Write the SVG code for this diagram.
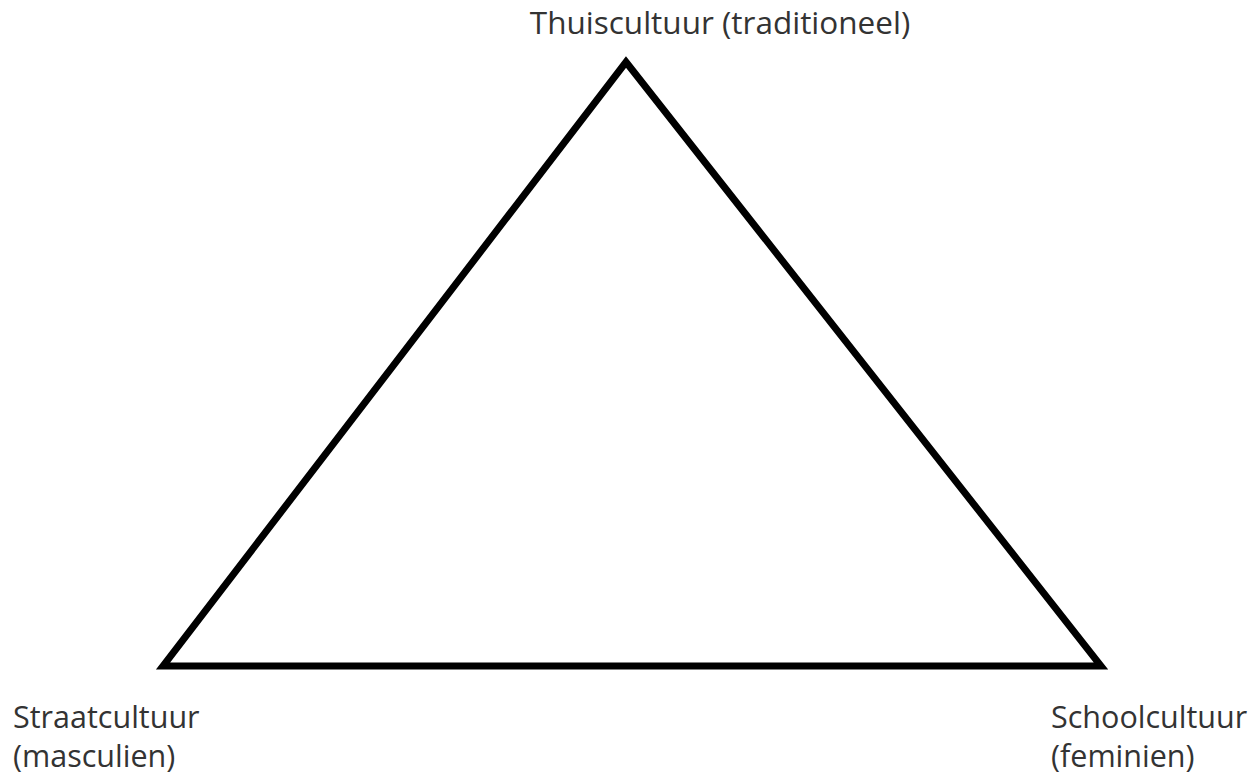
<svg xmlns="http://www.w3.org/2000/svg" width="1257" height="780" viewBox="0 0 1257 780">
<style>
.lbl{font-family:"Open Sans","Liberation Sans",sans-serif;font-size:30.5px;fill:#333333}
.title{font-size:31.5px}
.edge{fill:none;stroke:#000000;stroke-width:7;stroke-linejoin:miter}
</style>
<rect width="1257" height="780" fill="#ffffff"/>
<g id="connectors">
<polygon class="edge" points="626,62 1101,666 163,666"/>
</g>
<g id="thuis">
<text class="lbl title" x="720" y="34" text-anchor="middle">Thuiscultuur (traditioneel)</text>
</g>
<g id="straat">
<text class="lbl" x="13" y="728">Straatcultuur</text>
<text class="lbl" x="13" y="767">(masculien)</text>
</g>
<g id="school">
<text class="lbl" x="1051" y="728">Schoolcultuur</text>
<text class="lbl" x="1051" y="767">(feminien)</text>
</g>
</svg>
